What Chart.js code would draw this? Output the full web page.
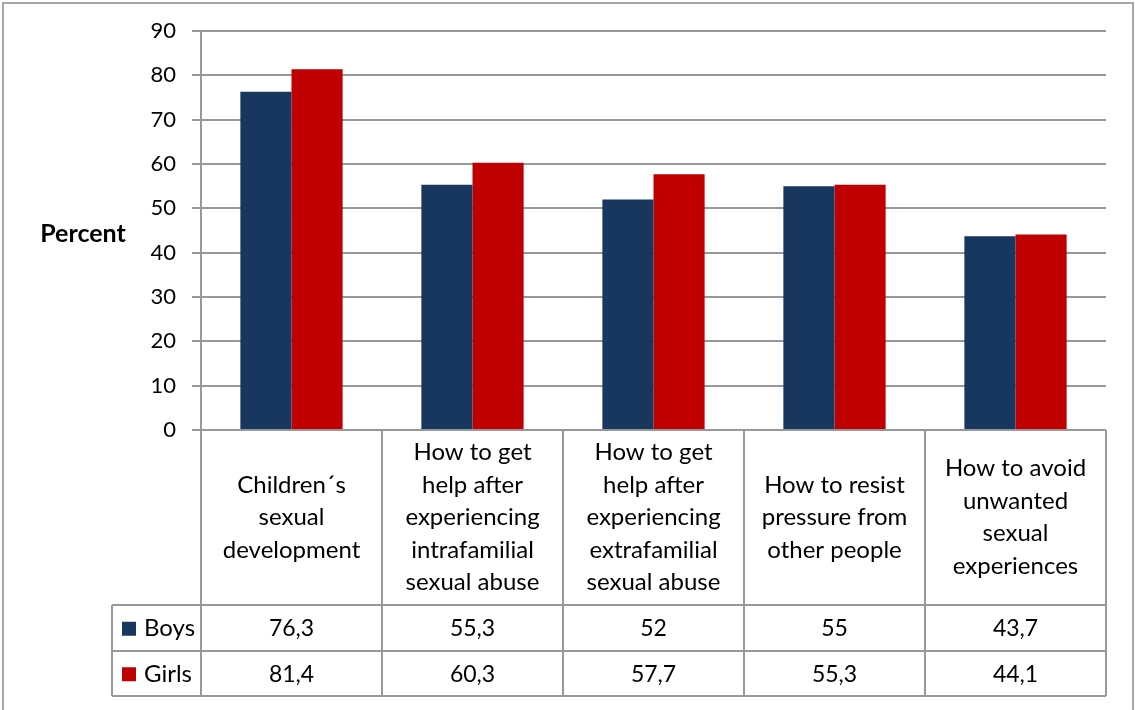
<!DOCTYPE html>
<html>
<head>
<meta charset="utf-8">
<script src="https://cdn.jsdelivr.net/npm/chart.js@4.4.1/dist/chart.umd.min.js"></script>
<style>
  html, body { margin: 0; padding: 0; background: #fff; }
  #wrap { position: relative; width: 1135px; height: 710px; }
</style>
</head>
<body>
<div id="wrap"><canvas id="grafico" width="1135" height="710"></canvas></div>
<script>
// data
const categorias = [
    ["Children\u00b4s", "sexual", "development"],
    ["How to get", "help after", "experiencing", "intrafamilial", "sexual abuse"],
    ["How to get", "help after", "experiencing", "extrafamilial", "sexual abuse"],
    ["How to resist", "pressure from", "other people"],
    ["How to avoid", "unwanted", "sexual", "experiences"]
];
const boys = [76.3, 55.3, 52, 55, 43.7];
const girls = [81.4, 60.3, 57.7, 55.3, 44.1];
const serieNames = ["Boys", "Girls"];
const yTicks = [0, 10, 20, 30, 40, 50, 60, 70, 80, 90];

const FONT = "Lato, 'Open Sans', sans-serif";
const GRID = '#989898';
const colores = ['#17375E', '#C00000'];

function fmt(v) {
    return String(v).replace('.', ',');
}

const tablaPlugin = {
    id: 'tabla',
    beforeDraw(chart) {
        const ctx = chart.ctx;
        ctx.save();
        ctx.strokeStyle = '#a6a6a6';
        ctx.lineWidth = 2;
        ctx.strokeRect(3, 3, 1130, 740);
        ctx.restore();
    },
    afterDraw(chart) {
        const ctx = chart.ctx;
        const area = chart.chartArea;
        const xs = chart.scales.x;
        const colW = (area.right - area.left) / categorias.length;
        const headBottom = area.bottom + 175;
        const rowH = 45.5;
        const tableLeft = 112;
        const series = [boys, girls];

        ctx.save();
        ctx.strokeStyle = GRID;
        ctx.lineWidth = 2;

        // vertical lines of the header block and the value rows
        for (let i = 0; i <= categorias.length; i++) {
            const x = Math.round(area.left + i * colW);
            ctx.beginPath();
            ctx.moveTo(x, area.bottom);
            ctx.lineTo(x, headBottom + rowH * 2);
            ctx.stroke();
        }
        ctx.beginPath();
        ctx.moveTo(tableLeft, headBottom);
        ctx.lineTo(tableLeft, headBottom + rowH * 2);
        ctx.stroke();

        // horizontal lines
        for (let r = 0; r <= 2; r++) {
            const y = Math.round(headBottom + r * rowH);
            ctx.beginPath();
            ctx.moveTo(tableLeft, y);
            ctx.lineTo(area.right, y);
            ctx.stroke();
        }

        ctx.fillStyle = '#000';
        ctx.font = '24px ' + FONT;
        ctx.textAlign = 'center';
        ctx.textBaseline = 'middle';

        // category labels
        const lineH = 32.5;
        const midHead = (area.bottom + headBottom) / 2;
        categorias.forEach((lineas, i) => {
            const cx = xs.getPixelForValue(i);
            const y0 = midHead - (lineas.length - 1) * lineH / 2;
            lineas.forEach((t, j) => ctx.fillText(t, cx, y0 + j * lineH));
        });

        // values
        series.forEach((vals, r) => {
            const cy = headBottom + rowH * r + rowH / 2 + 1;
            ctx.font = '23px ' + FONT;
            vals.forEach((v, i) => {
                ctx.fillText(fmt(v), xs.getPixelForValue(i), cy);
            });
            // legend key + name
            ctx.fillStyle = colores[r];
            ctx.fillRect(tableLeft + 10, cy - 7, 14, 14);
            ctx.fillStyle = '#000';
            ctx.textAlign = 'left';
            ctx.font = '24px ' + FONT;
            ctx.fillText(serieNames[r], tableLeft + 32, cy);
            ctx.textAlign = 'center';
        });

        // y axis title
        ctx.font = 'bold 25px ' + FONT;
        ctx.fillText('Percent', 83, 234);
        ctx.restore();
    }
};

const ctx = document.getElementById('grafico').getContext('2d');
new Chart(ctx, {
    type: 'bar',
    data: {
        labels: categorias.map(c => c.join(' ')),
        datasets: [
            { label: serieNames[0], data: boys, backgroundColor: colores[0] },
            { label: serieNames[1], data: girls, backgroundColor: colores[1] }
        ]
    },
    options: {
        responsive: false,
        animation: false,
        layout: { padding: { left: 0, top: 31, right: 29, bottom: 280 } },
        categoryPercentage: 0.565,
        barPercentage: 1,
        plugins: {
            legend: { display: false },
            tooltip: { enabled: false }
        },
        scales: {
            x: { display: false },
            y: {
                min: 0,
                max: 90,
                afterFit(scale) { scale.width = 201; },
                afterBuildTicks(scale) { scale.ticks = yTicks.map(v => ({ value: v })); },
                border: { color: GRID, width: 2 },
                grid: { color: GRID, lineWidth: 2, tickLength: 9 },
                ticks: {
                    color: '#000',
                    padding: 16,
                    font: { family: FONT, size: 22 }
                }
            }
        }
    },
    plugins: [tablaPlugin]
});
</script>
</body>
</html>
